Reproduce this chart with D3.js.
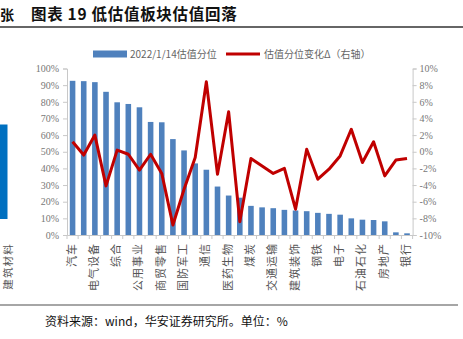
<!DOCTYPE html>
<html><head><meta charset="utf-8">
<script src="https://cdn.jsdelivr.net/npm/d3@7"></script>
<style>
body{margin:0;background:#fff;}
svg{display:block;}
</style></head>
<body>
<svg id="c" width="463" height="339"></svg>
<script>
const categories = ["汽车","农林牧渔","电气设备","基础化工","综合","有色金属","公用事业","家用电器","商贸零售","食品饮料","国防军工","纺织服饰","通信","轻工制造","医药生物","社会服务","煤炭","非银金融","交通运输","建筑材料","建筑装饰","机械设备","钢铁","计算机","电子","传媒","石油石化","环保","房地产","美容护理","银行"];
const valuation = [92.6,92.4,91.8,86.0,79.7,78.7,76.7,67.9,67.7,57.6,50.8,43.0,39.2,29.1,23.7,22.4,17.5,16.6,16.1,15.1,14.7,14.3,13.3,12.7,12.2,10.0,9.2,9.0,8.2,1.6,1.0];
const change = [1.2,-0.4,2.0,-4.1,0.2,-0.3,-2.2,-0.3,-2.6,-8.8,-4.5,-0.7,8.4,-2.7,4.8,-8.4,-0.8,-1.7,-2.6,-2.0,-6.9,0.3,-3.3,-2.1,-0.5,2.7,-1.3,1.2,-2.9,-1.0,-0.8];
const leftTicks = [0,10,20,30,40,50,60,70,80,90,100];
const rightTicks = [-10,-8,-6,-4,-2,0,2,4,6,8,10];
const seriesNames = ["2022/1/14估值分位","估值分位变化Δ（右轴）"];

const svg = d3.select("#c");
const X0 = 67, X1 = 412.6, YB = 235, YT = 68.5;
const x = d3.scaleBand().domain(categories).range([X0, X1]).paddingInner(0.5).paddingOuter(0.25);
const yL = d3.scaleLinear().domain([0,100]).range([YB, YT]);
const yR = d3.scaleLinear().domain([-10,10]).range([YB, YT]);
const serif = "'Liberation Serif','Times New Roman',serif";
const cjk = "'Noto Sans CJK SC',sans-serif";

// title
svg.append("text").attr("x",0).attr("y",20).attr("font-family",cjk).attr("font-weight","bold").attr("font-size",14).attr("fill","#111").text("张");
svg.append("text").attr("x",31).attr("y",20).attr("font-family",cjk).attr("font-weight","bold").attr("font-size",15.5).attr("letter-spacing",0.7).attr("fill","#111").text("图表 19  低估值板块估值回落");
svg.append("line").attr("x1",0).attr("x2",463).attr("y1",27).attr("y2",27).attr("stroke","#333").attr("stroke-width",1.3);

// left fragment from previous chart
svg.append("rect").attr("x",0).attr("y",124.5).attr("width",7.5).attr("height",94.5).attr("fill","#0070C0");
svg.append("text").attr("transform","translate(2,243) rotate(-90)").attr("text-anchor","end").attr("dominant-baseline","hanging")
  .attr("font-family",cjk).attr("font-size",10.5).attr("letter-spacing",1.2).attr("fill","#555").text("建筑材料");

// legend
svg.append("rect").attr("x",93).attr("y",50.5).attr("width",34).attr("height",7).attr("fill","#4F81BD");
svg.append("text").attr("x",130).attr("y",57.5).attr("font-family",cjk).attr("font-size",10).attr("fill","#666").text(seriesNames[0]);
svg.append("line").attr("x1",226).attr("x2",260).attr("y1",54).attr("y2",54).attr("stroke","#C00000").attr("stroke-width",3);
svg.append("text").attr("x",264).attr("y",57.5).attr("font-family",cjk).attr("font-size",10).attr("fill","#666").text(seriesNames[1]);

// axes
const gL = svg.append("g").attr("transform",`translate(${X0},0)`)
  .call(d3.axisLeft(yL).tickValues(leftTicks).tickFormat(d=>d+"%").tickSize(4).tickPadding(4));
const gR = svg.append("g").attr("transform",`translate(${X1},0)`)
  .call(d3.axisRight(yR).tickValues(rightTicks).tickFormat(d=>d+"%").tickSize(4).tickPadding(3));
[gL,gR].forEach(g=>{
  g.select(".domain").attr("stroke","#c8c8c8");
  g.selectAll(".tick line").attr("stroke","#c8c8c8");
  g.selectAll(".tick text").attr("font-family",serif).attr("font-size",10).attr("fill","#777");
});

// bars
svg.append("g").selectAll("rect").data(categories).join("rect")
  .attr("x",d=>x(d)).attr("width",x.bandwidth())
  .attr("y",(d,i)=>yL(valuation[i])).attr("height",(d,i)=>YB-yL(valuation[i]))
  .attr("fill","#4F81BD");

// x axis
const gX = svg.append("g").attr("transform",`translate(0,${YB})`)
  .call(d3.axisBottom(x).tickValues(categories.filter((d,i)=>i%2===0)).tickSize(0).tickFormat(""));
gX.select(".domain").attr("stroke","#c8c8c8");
svg.append("g").selectAll("line").data(d3.range(categories.length+1)).join("line")
  .attr("x1",i=>X0+i*(X1-X0)/categories.length).attr("x2",i=>X0+i*(X1-X0)/categories.length)
  .attr("y1",YB).attr("y2",YB+4).attr("stroke","#c8c8c8");
svg.append("g").selectAll("text").data(categories.filter((d,i)=>i%2===0)).join("text")
  .attr("transform",d=>`translate(${x(d)+x.bandwidth()/2},243) rotate(-90)`)
  .attr("text-anchor","end").attr("dominant-baseline","middle")
  .attr("font-family",cjk).attr("font-size",11).attr("letter-spacing",1).attr("fill","#555")
  .text(d=>d);

// line
const line = d3.line().x((d,i)=>x(categories[i])+x.bandwidth()/2).y(d=>yR(d));
svg.append("path").datum(change).attr("d",line).attr("fill","none")
  .attr("stroke","#C00000").attr("stroke-width",3).attr("stroke-linejoin","round");

// footer
svg.append("line").attr("x1",0).attr("x2",458).attr("y1",305).attr("y2",305).attr("stroke","#888").attr("stroke-width",1.5);
svg.append("text").attr("x",45).attr("y",326).attr("font-family",cjk).attr("font-size",12).attr("fill","#111").text("资料来源：wind，华安证券研究所。单位：%");
</script>
</body></html>
